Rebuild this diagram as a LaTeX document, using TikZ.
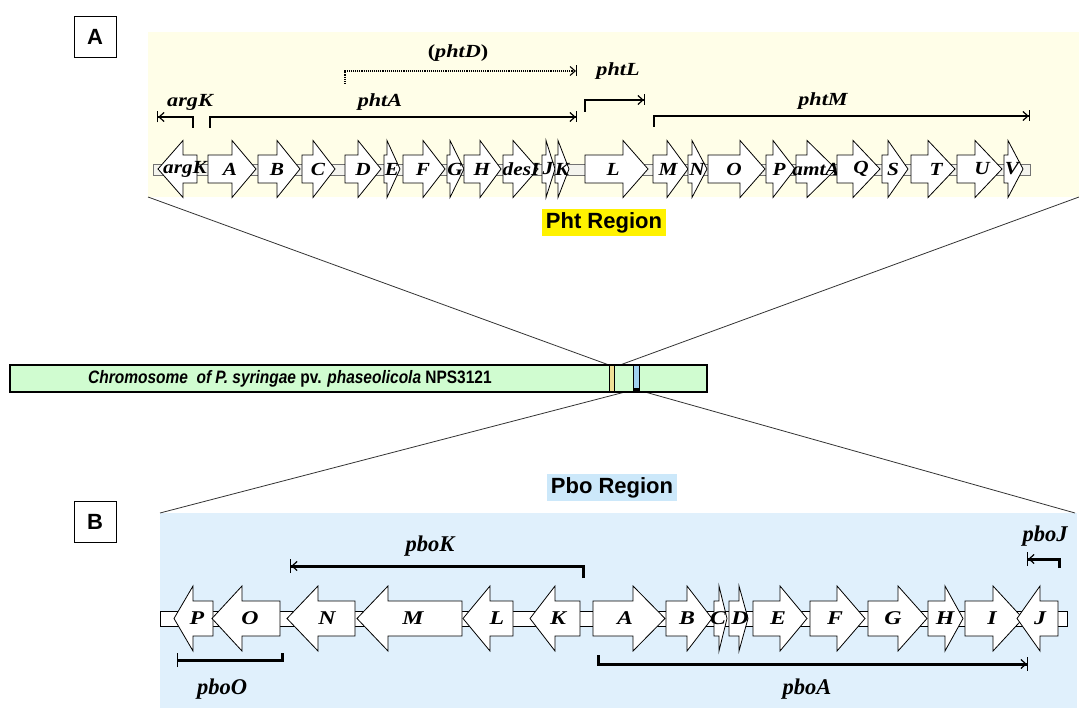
\documentclass[tikz,border=0pt]{standalone}
\usepackage{fontspec}
\setmainfont{Liberation Serif}
\newfontfamily\gfam{Liberation Serif}[FakeStretch=1.15]
\newfontfamily\hfam{Liberation Serif}[FakeStretch=1.22]
\newfontfamily\lfam{Liberation Serif}[FakeStretch=1.2]
\newfontfamily\bfam{Liberation Serif}
\newfontfamily\sfam{Liberation Sans}
\newfontfamily\cfam{Liberation Sans}[FakeStretch=0.86]
\usetikzlibrary{arrows.meta,calc}

\definecolor{pyel}{RGB}{255,254,232}
\definecolor{pblu}{RGB}{224,240,252}
\definecolor{hblu}{RGB}{204,232,250}
\definecolor{chrg}{RGB}{208,252,208}
\definecolor{mkyel}{RGB}{240,224,150}
\definecolor{mkblu}{RGB}{160,210,240}
\definecolor{bbfill}{RGB}{244,244,238}

\tikzset{
  gene/.style={draw=black, fill=white, line width=0.8pt, line join=miter},
  tglab/.style={font=\gfam\bfseries\itshape\fontsize{18.5}{18.5}\selectfont, inner sep=0pt},
  bglab/.style={font=\hfam\bfseries\itshape\fontsize{19.5}{19.5}\selectfont, inner sep=0pt},
  toplab/.style={font=\lfam\bfseries\itshape\fontsize{18.5}{18.5}\selectfont, inner sep=1pt},
  botlab/.style={font=\bfam\bfseries\itshape\fontsize{22.5}{22.5}\selectfont, inner sep=1pt},
  thinann/.style={line width=1.2pt, -{Straight Barb[length=5pt,width=9pt,sep=0pt]Bar[width=11pt,sep=0pt]}},
  dotann/.style={line width=1.1pt, densely dotted, -{Straight Barb[length=5pt,width=9pt,sep=0pt]Bar[width=11pt,sep=0pt]}},
  thickann/.style={line width=3pt, -{Straight Barb[length=5pt,width=9pt,line width=1.2pt,sep=0pt]Bar[width=14pt,line width=1.2pt,sep=0pt]}},
  thickbar/.style={line width=3pt, -{Bar[width=14pt,line width=1.2pt]}},
  cone/.style={line width=0.8pt, draw=black!80},
  lbox/.style={draw=black, fill=white, line width=0.9pt, minimum width=42pt, minimum height=41pt, inner sep=0pt,
    font=\sfam\bfseries\fontsize{22}{22}\selectfont},
  region/.style={inner xsep=4pt, inner ysep=3pt, minimum height=27pt,
    font=\sfam\bfseries\fontsize{22}{22}\selectfont},
}

% gene arrow: name, start(body end), head base, tip, label, label x
\newcommand\genearrow[6]{%
  \draw[gene] (#2,\cy-\bh) -- (#3,\cy-\bh) -- (#3,\cy-\ah) -- (#4,\cy) -- (#3,\cy+\ah) -- (#3,\cy+\bh) -- (#2,\cy+\bh) -- cycle;
  \node[\glabstyle] (#1) at (#6,\cy) {#5};%
}

\begin{document}
\begin{tikzpicture}[x=1pt,y=-1pt]
\useasboundingbox (0,0) rectangle (1079,708);

% panels
\fill[pyel] (148,32) rectangle (1079,197);
\fill[pblu] (160,513) rectangle (1077,708);

% chromosome and zoom cones
\coordinate (c1) at (609,365);
\coordinate (c2) at (620,365);
\coordinate (c3) at (625,392);
\coordinate (c4) at (645,392);
\coordinate (p1) at (148,197);
\coordinate (p2) at (1079,197);
\coordinate (p3) at (160,513);
\coordinate (p4) at (1075,513);
\draw[cone] (p1) -- (c1);
\draw[cone] (p2) -- (c2);
\draw[cone] (c3) -- (p3);
\draw[cone] (c4) -- (p4);

\draw[fill=chrg, line width=1.3pt] (10,365) rectangle (707,392);
\draw[fill=mkyel, line width=0.6pt] (609,365.6) rectangle (614,391.4);
\draw[fill=mkblu, line width=0.8pt] (633,365.6) rectangle (639,391.4);
\fill[black] (633,388) rectangle (639,392);
\node[anchor=west, inner sep=0pt, font=\cfam\bfseries\fontsize{18}{18}\selectfont] (chrtxt) at (88,379)
  {\itshape Chromosome\ \ of P. syringae \upshape pv. \itshape phaseolicola\upshape\ NPS3121};

% panel letters
\node[lbox] (boxA) at (95,36.5) {A};
\node[lbox] (boxB) at (95,521.5) {B};

% region labels
\node[region, fill=yellow] (pht) at (604,223) {Pht Region};
\node[region, fill=hblu] (pbo) at (612,487.5) {Pbo Region};

% ---------- top row ----------
\fill[bbfill] (153,164) rectangle (1030,175);
\draw[black!55, line width=0.8pt] (153,164) rectangle (1030,175);
\def\cy{169}\def\bh{14}\def\ah{28.5}\def\glabstyle{tglab}
\genearrow{targK}{197}{183}{158}{argK}{185}
\genearrow{tA}{208}{232}{256}{A}{230}
\genearrow{tB}{258}{277}{300}{B}{277}
\genearrow{tC}{302}{313}{335}{C}{318}
\genearrow{tD}{345}{358}{381}{D}{363}
\genearrow{tE}{384}{387}{400}{E}{392}
\genearrow{tF}{403}{423}{445}{F}{423}
\genearrow{tG}{447}{450}{464}{G}{455}
\genearrow{tH}{464}{480}{501}{H}{482}
\genearrow{tdesI}{503}{513}{538}{desI}{521}
\genearrow{tJ}{542}{546}{555}{J}{548}
\genearrow{tK}{555}{558}{569}{K}{562}
\genearrow{tL}{585}{623}{648}{L}{613}
\genearrow{tM}{653}{667}{688}{M}{668}
\genearrow{tN}{688}{692}{707}{N}{697}
\genearrow{tO}{708}{740}{765}{O}{734}
\genearrow{tP}{766}{773}{795}{P}{779}
\genearrow{tamtA}{796}{807}{836}{amtA}{816}
\genearrow{tQ}{837}{853}{880}{Q}{861}
\genearrow{tS}{882}{888}{908}{S}{893}
\genearrow{tT}{911}{928}{955}{T}{936}
\genearrow{tU}{957}{975}{1002}{U}{982}
\genearrow{tV}{1004}{1008}{1023}{V}{1012}

% top annotations
\coordinate (dS) at (345,84); \coordinate (dC) at (345,71); \coordinate (dE) at (577,71);
\draw[dotann] (dS) -- (dC) -- (dE);
\node[toplab] (lphtD) at (458,53) {\upshape(\itshape phtD\upshape)};

\coordinate (kS) at (193,128); \coordinate (kC) at (193,117); \coordinate (kE) at (157,117);
\draw[thinann] (kS) -- (kC) -- (kE);
\node[toplab] (largK) at (190,102) {argK};

\coordinate (aS) at (210,128); \coordinate (aC) at (210,117); \coordinate (aE) at (577,117);
\draw[thinann] (aS) -- (aC) -- (aE);
\node[toplab] (lphtA) at (380,102) {phtA};

\coordinate (lS) at (585,112); \coordinate (lC) at (585,100); \coordinate (lE) at (645,100);
\draw[thinann] (lS) -- (lC) -- (lE);
\node[toplab] (lphtL) at (618,71) {phtL};

\coordinate (mS) at (654,127); \coordinate (mC) at (654,116); \coordinate (mE) at (1030,116);
\draw[thinann] (mS) -- (mC) -- (mE);
\node[toplab] (lphtM) at (823,101) {phtM};

% ---------- bottom row ----------
\draw[fill=white, line width=0.8pt] (160,611) rectangle (1067,626);
\def\cy{618.5}\def\bh{17.5}\def\ah{32.5}\def\glabstyle{bglab}
\genearrow{bP}{213}{193}{174}{P}{197}
\genearrow{bO}{280}{242}{212}{O}{250}
\genearrow{bN}{355}{318}{287}{N}{327}
\genearrow{bM}{462}{388}{357}{M}{413}
\genearrow{bL}{513}{490}{463}{L}{497}
\genearrow{bK}{580}{555}{530}{K}{558}
\genearrow{bA}{593}{633}{665}{A}{625}
\genearrow{bB}{666}{687}{712}{B}{687}
\genearrow{bC}{714}{719}{727}{C}{718}
\genearrow{bD}{729}{739}{748}{D}{740}
\genearrow{bE}{753}{780}{807}{E}{778}
\genearrow{bF}{810}{837}{865}{F}{835}
\genearrow{bG}{868}{898}{927}{G}{893}
\genearrow{bH}{928}{945}{963}{H}{945}
\genearrow{bI}{965}{993}{1023}{I}{992}
\genearrow{bJ}{1058}{1040}{1017}{J}{1040}

% bottom annotations
\coordinate (bkS) at (583,578); \coordinate (bkC) at (583,566); \coordinate (bkE) at (290,566);
\draw[thickann] (bkS) -- (bkC) -- (bkE);
\node[botlab] (lpboK) at (430,546) {pboK};

\coordinate (boS) at (282,653); \coordinate (boC) at (282,660); \coordinate (boE) at (177,660);
\draw[thickbar] (boS) -- (boC) -- (boE);
\node[botlab] (lpboO) at (222,689) {pboO};

\coordinate (baS) at (598,655); \coordinate (baC) at (598,664); \coordinate (baE) at (1028,664);
\draw[thickann] (baS) -- (baC) -- (baE);
\node[botlab] (lpboA) at (807,689) {pboA};

\coordinate (bjS) at (1059,568); \coordinate (bjC) at (1059,559); \coordinate (bjE) at (1027,559);
\draw[thickann] (bjS) -- (bjC) -- (bjE);
\node[botlab] (lpboJ) at (1045,536) {pboJ};
\end{tikzpicture}
\end{document}
